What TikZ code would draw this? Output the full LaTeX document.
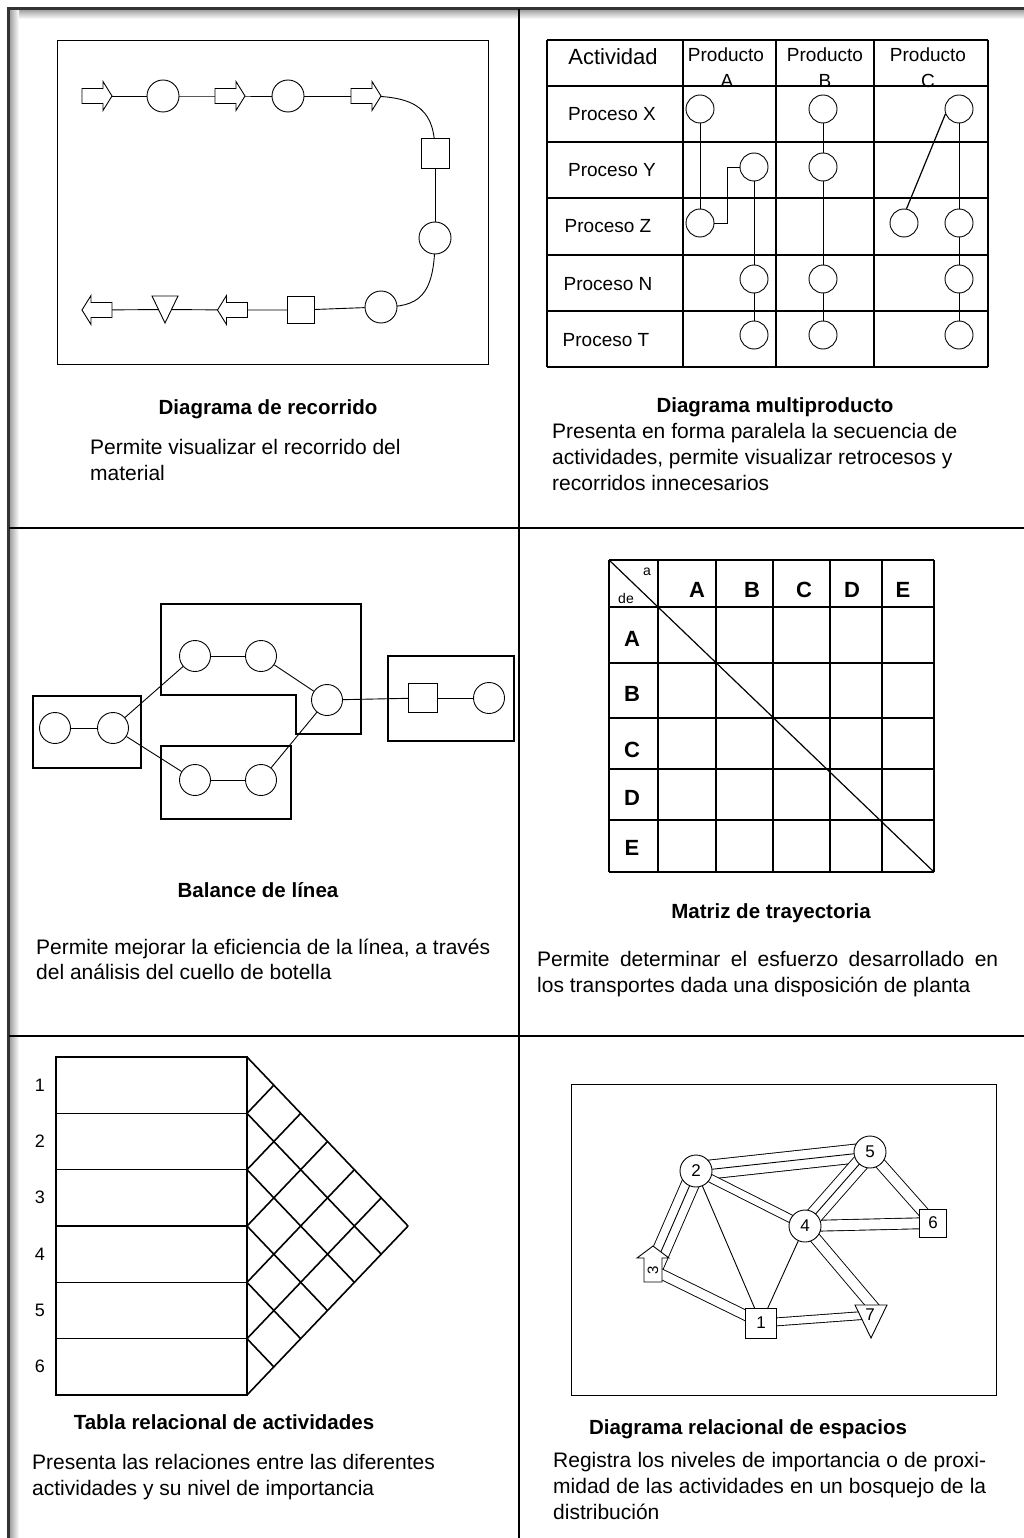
\documentclass[tikz,border=0pt]{standalone}
\usepackage{fontspec}
\setmainfont{Liberation Sans}
\usetikzlibrary{backgrounds,calc}
\newcommand{\fs}[1]{\fontsize{#1}{#1}\selectfont}
\newcommand{\rarr}[1]{\draw[shp,shift={(#1)}] (-15,-7.5) -- (6,-7.5) -- (6,-14.5) -- (15,0) -- (6,14.5) -- (6,7.5) -- (-15,7.5) -- cycle;}
\newcommand{\larr}[1]{\draw[shp,shift={(#1)}] (15,-7.5) -- (-6,-7.5) -- (-6,-14.5) -- (-15,0) -- (-6,14.5) -- (-6,7.5) -- (15,7.5) -- cycle;}
\begin{document}
\begin{tikzpicture}[x=1pt,y=-1pt,
  ln/.style={line width=0.9pt},
  thk/.style={line width=1.6pt},
  thn/.style={line width=0.8pt},
  bub/.style={circle,draw,fill=white,line width=0.9pt,inner sep=0pt,minimum size=32pt},
  bubs/.style={bub,minimum size=28pt},
  bubm/.style={bub,minimum size=31pt},
  box/.style={rectangle,draw,fill=white,line width=0.9pt,inner sep=0pt},
  shp/.style={draw,fill=white,line width=0.9pt},
  dbl/.style={line width=0.9pt,double,double distance=#1},
  desc/.style={anchor=base west,inner sep=0pt,font=\fs{21}},
  ttl/.style={anchor=base,inner sep=0pt,font=\fs{20.5}\bfseries},
  lab/.style={anchor=base,inner sep=0pt}]
\useasboundingbox (0,0) rectangle (1024,1538);
\begin{pgfonlayer}{background}
\fill[white] (0,0) rectangle (1024,1538);
\end{pgfonlayer}

% ---------- frame ----------
\shade[top color=black!40,bottom color=white] (9,9) rectangle (1024,19);
\shade[left color=black!40,right color=white] (9,9) rectangle (19,1538);
\draw[line width=2.4pt,black!80] (1024,8.5) -- (8.5,8.5) -- (8.5,1538);
\draw[line width=1.6pt] (519,9) -- (519,1538);
\draw[line width=1.6pt] (9,528) -- (1024,528);
\draw[line width=1.6pt] (9,1036) -- (1024,1036);

% ---------- panel 1: Diagrama de recorrido ----------
\draw[thn] (57,40) rectangle (488,364);
\coordinate (ra1) at (97,96);
\coordinate (ra2) at (230,96);
\coordinate (ra3) at (366,96);
\coordinate (la1) at (232.5,310);
\coordinate (la2) at (97,310);
\coordinate (tri1) at (165,309.5);
\rarr{ra1} \rarr{ra2} \rarr{ra3}
\larr{la1} \larr{la2}
\draw[shp,shift={(tri1)}] (-13,-13.5) -- (13,-13.5) -- (0,13.5) -- cycle;
\node[bub] (c1) at (163,96) {};
\node[bub] (c2) at (288,96) {};
\node[box,minimum width=28pt,minimum height=30pt] (s1) at (435,153) {};
\node[bub] (c3) at (435,238) {};
\node[bub] (c4) at (381,307) {};
\node[box,minimum size=27pt] (s2) at (301,310) {};
\begin{pgfonlayer}{background}
\draw[ln] (ra1) -- (c1) -- (ra2) -- (c2) -- (ra3);
\draw[ln] (ra3) .. controls (420,96) and (435,112) .. (s1.center);
\draw[ln] (s1) -- (c3);
\draw[ln] (c3.center) .. controls (435,298) and (418,307) .. (c4.center);
\draw[ln] (c4) -- (s2) -- (la1) -- (tri1) -- (la2);
\end{pgfonlayer}
\node[ttl] (t1) at (268,414) {Diagrama de recorrido};
\node[desc] (d1a) at (90,454) {Permite visualizar el recorrido del};
\node[desc] (d1b) at (90,480) {material};

% ---------- panel 2: Diagrama multiproducto ----------
\node[lab,font=\fs{22}] (hA) at (613,65) {Actividad};
\node[lab,font=\fs{19}] (hPA) at (726,62) {Producto};
\node[lab,font=\fs{19}] (hPB) at (825,62) {Producto};
\node[lab,font=\fs{19}] (hPC) at (928,62) {Producto};
\node[lab,font=\fs{19}] (hLA) at (727,88) {A};
\node[lab,font=\fs{19}] (hLB) at (825,88) {B};
\node[lab,font=\fs{19}] (hLC) at (928,88) {C};
\foreach \x in {547,683,776,874,988} \draw[thk] (\x,40) -- (\x,367);
\foreach \y in {40,86,142,198,255,311,367} \draw[thk] (547,\y) -- (988,\y);
\node[lab,font=\fs{19}] (rX) at (612,121) {Proceso X};
\node[lab,font=\fs{19}] (rY) at (612,177) {Proceso Y};
\node[lab,font=\fs{19}] (rZ) at (608,233) {Proceso Z};
\node[lab,font=\fs{19}] (rN) at (608,290) {Proceso N};
\node[lab,font=\fs{19}] (rT) at (606,346) {Proceso T};
\node[bubs] (aX) at (700,109) {};
\node[bubs] (aY) at (754,167) {};
\node[bubs] (aZ) at (700,223) {};
\node[bubs] (aN) at (754,279) {};
\node[bubs] (aT) at (754,335) {};
\node[bubs] (bX) at (823,109) {};
\node[bubs] (bY) at (823,167) {};
\node[bubs] (bN) at (823,279) {};
\node[bubs] (bT) at (823,335) {};
\node[bubs] (cX) at (959,109) {};
\node[bubs] (cZa) at (904,223) {};
\node[bubs] (cZb) at (959,223) {};
\node[bubs] (cN) at (959,279) {};
\node[bubs] (cT) at (959,335) {};
\draw[ln] (aX) -- (aZ);
\draw[ln] (aZ.east) -| ($(aZ.east)!.5!(aY.west)$) |- (aY.west);
\draw[ln] (aY) -- (aN) -- (aT);
\draw[ln] (bX) -- (bY) -- (bN) -- (bT);
\draw[line width=1.2pt] (cX.200) -- (cZa.80);
\draw[ln] (cX) -- (cZb) -- (cN) -- (cT);
\node[ttl] (t2) at (775,412) {Diagrama multiproducto};
\node[desc] (d2a) at (552,438) {Presenta en forma paralela la secuencia de};
\node[desc] (d2b) at (552,464) {actividades, permite visualizar retrocesos y};
\node[desc] (d2c) at (552,490) {recorridos innecesarios};

% ---------- panel 3: Balance de linea ----------
\draw[thk] (33,696) rectangle (141,768);
\draw[thk] (161,604) -- (361,604) -- (361,734) -- (296,734) -- (296,695) -- (161,695) -- cycle;
\draw[thk] (161,746) rectangle (291,819);
\draw[thk] (388,656) rectangle (514,741);
\node[bubm] (b1) at (55,728) {};
\node[bubm] (b2) at (113,728) {};
\node[bubm] (u1) at (195,656) {};
\node[bubm] (u2) at (261,656) {};
\node[bubm] (l1) at (195,780) {};
\node[bubm] (l2) at (261,780) {};
\node[bubm] (r1) at (327,700) {};
\node[box,minimum size=29pt] (q1) at (423,698) {};
\node[bubm] (b7) at (489,698) {};
\draw[ln] (b1) -- (b2);
\draw[ln] (b2) -- (u1);
\draw[ln] (b2) -- (l1);
\draw[ln] (u1) -- (u2);
\draw[ln] (u2) -- (r1);
\draw[ln] (l1) -- (l2);
\draw[ln] (l2) -- (r1);
\draw[ln] (r1) -- (q1);
\draw[ln] (q1) -- (b7);
\node[ttl] (t3) at (258,897) {Balance de línea};
\node[desc] (d3a) at (36,954) {Permite mejorar la eficiencia de la línea, a través};
\node[desc] (d3b) at (36,979) {del análisis del cuello de botella};

% ---------- panel 4: Matriz de trayectoria ----------
\foreach \x in {609,658,716,773,830,882,934} \draw[thk] (\x,560) -- (\x,872);
\foreach \y in {560,607,663,718,769,820,872} \draw[thk] (609,\y) -- (934,\y);
\draw[line width=1.2pt] (609,560) -- (934,872);
\node[lab,font=\fs{14}] (ma) at (647,575) {a};
\node[lab,font=\fs{14}] (mde) at (626,603) {de};
\node[lab,font=\fs{22}\bfseries] (cA) at (697,597) {A};
\node[lab,font=\fs{22}\bfseries] (cB) at (752,597) {B};
\node[lab,font=\fs{22}\bfseries] (cC) at (804,597) {C};
\node[lab,font=\fs{22}\bfseries] (cD) at (852,597) {D};
\node[lab,font=\fs{22}\bfseries] (cE) at (903,597) {E};
\node[lab,font=\fs{22}\bfseries] (wA) at (632,646) {A};
\node[lab,font=\fs{22}\bfseries] (wB) at (632,701) {B};
\node[lab,font=\fs{22}\bfseries] (wC) at (632,757) {C};
\node[lab,font=\fs{22}\bfseries] (wD) at (632,805) {D};
\node[lab,font=\fs{22}\bfseries] (wE) at (632,855) {E};
\node[ttl] (t4) at (771,918) {Matriz de trayectoria};
\node[desc] (d4a) at (537,966) {\makebox[461pt][s]{Permite determinar el esfuerzo desarrollado en}};
\node[desc] (d4b) at (537,992) {los transportes dada una disposición de planta};

% ---------- panel 5: Tabla relacional de actividades ----------
\draw[thk] (56,1057) rectangle (247,1395);
\foreach \i in {1,...,5} \draw[thk] (56,{1057+\i*56.333}) -- (247,{1057+\i*56.333});
\foreach \i in {0,...,6} {
  \draw[thk] (247,{1057+\i*56.333}) -- ++({0.953*(6-\i)*28.1667},{(6-\i)*28.1667});
  \draw[thk] (247,{1057+\i*56.333}) -- ++({0.953*\i*28.1667},{-\i*28.1667});
}
\foreach \i in {1,...,6} \node[lab,font=\fs{18}] (num\i) at (40,{1091+(\i-1)*56.333}) {\i};
\node[ttl] (t5) at (224,1429) {Tabla relacional de actividades};
\node[desc] (d5a) at (32,1469) {Presenta las relaciones entre las diferentes};
\node[desc] (d5b) at (32,1495) {actividades y su nivel de importancia};

% ---------- panel 6: Diagrama relacional de espacios ----------
\draw[thn] (571,1084) rectangle (996,1395);
\draw[shp] (644,1282) -- (644,1258) -- (637,1258) -- (653,1246) -- (669,1258) -- (662,1258) -- (662,1282) -- cycle;
\node[inner sep=0pt,rotate=90,font=\fs{15}] (n3) at (653,1270) {3};
\draw[shp] (855,1305) -- (887,1305) -- (871,1338) -- cycle;
\node[inner sep=0pt,font=\fs{17}] (n7) at (870,1315) {7};
\coordinate (n7a) at (877,1311);
\node[bub,font=\fs{17}] (n2) at (696,1171) {2};
\node[bub,font=\fs{17}] (n5) at (870,1152) {5};
\node[bub,font=\fs{17}] (n4) at (805,1226) {4};
\node[box,minimum width=27pt,minimum height=28pt,font=\fs{17}] (n6) at (933,1223) {6};
\node[box,minimum width=31pt,minimum height=30pt,font=\fs{17}] (n1) at (761,1323) {1};
\begin{pgfonlayer}{background}
\draw[dbl=18pt] (n2.center) -- (n5.center);
\draw[ln] (n2.center) -- (n5.center);
\draw[dbl=17pt] (n2.center) -- (n3.center);
\draw[ln] (n2.center) -- (n3.center);
\draw[ln] (n2.center) -- (n1.center);
\draw[dbl=7pt] (n2.center) -- (n4.center);
\draw[ln] (n4.center) -- (n1.center);
\draw[dbl=10pt] (n4.center) -- (n7a);
\draw[dbl=10pt] (n4.center) -- (n6.center);
\draw[dbl=10pt] (n5.center) -- (n6.center);
\draw[dbl=16pt] (n4.center) -- (n5.center);
\draw[ln] (n4.center) -- (n5.center);
\draw[dbl=9pt] (n3.center) -- (n1.center);
\draw[dbl=7pt] (n1.center) -- (n7.center);
\end{pgfonlayer}
\node[ttl] (t6) at (748,1434) {Diagrama relacional de espacios};
\node[desc] (d6a) at (553,1467) {\makebox[433pt][s]{Registra los niveles de importancia o de proxi-}};
\node[desc] (d6b) at (553,1493) {\makebox[433pt][s]{midad de las actividades en un bosquejo de la}};
\node[desc] (d6c) at (553,1519) {distribución};
\end{tikzpicture}
\end{document}
